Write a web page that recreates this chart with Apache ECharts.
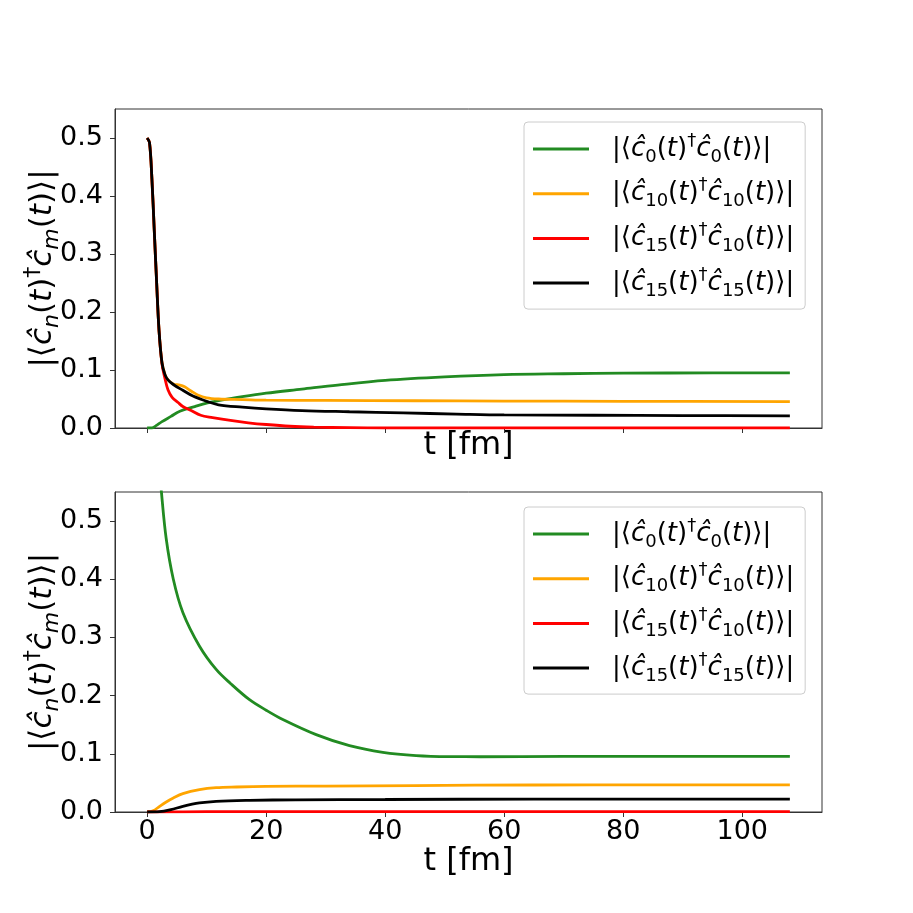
<!DOCTYPE html>
<html>
<head>
<meta charset="utf-8">
<script src="https://cdn.jsdelivr.net/npm/echarts@6/dist/echarts.min.js"></script>
<style>
  html, body { margin: 0; padding: 0; background: #fff; }
  #main { width: 913px; height: 913px; }
</style>
</head>
<body>
<div id="main"></div>
<script>
// 数据
var names = ['c0c0', 'c10c10', 'c15c10', 'c15c15'];
var colors = ['#228B22', '#FFA500', '#FF0000', '#000000'];
var xTicks = [0, 20, 40, 60, 80, 100];
var yTicks = [0, 0.1, 0.2, 0.3, 0.4, 0.5];

// 上图
var topGreenT = [0, 0.8, 1.5, 2.5, 4, 5.5, 8, 10, 12, 16, 20, 26, 32, 40, 50, 60, 70, 80, 95, 108];
var topGreenV = [0, 0, 0.004, 0.011, 0.020, 0.029, 0.037, 0.043, 0.047, 0.054, 0.060, 0.067, 0.074, 0.082, 0.088, 0.092, 0.0935, 0.0945, 0.095, 0.095];
var topOrangeT = [0, 0.4, 0.8, 1.2, 1.6, 2.0, 2.5, 3.0, 3.5, 4.4, 5.5, 6.3, 7.5, 8.5, 10, 12, 16, 20, 30, 45, 60, 80, 108];
var topOrangeV = [0.5, 0.492, 0.43, 0.34, 0.25, 0.168, 0.112, 0.092, 0.083, 0.076, 0.074, 0.071, 0.063, 0.057, 0.052, 0.050, 0.049, 0.048, 0.0475, 0.047, 0.0465, 0.046, 0.0455];
var topRedT = [0, 0.4, 0.8, 1.2, 1.6, 2.0, 2.5, 3.0, 3.5, 4.2, 5.2, 6, 7.4, 9, 11, 14, 17, 20, 24, 28, 34, 40, 60, 80, 108];
var topRedV = [0.5, 0.492, 0.43, 0.34, 0.25, 0.168, 0.11, 0.085, 0.066, 0.053, 0.044, 0.037, 0.030, 0.022, 0.018, 0.013, 0.009, 0.006, 0.003, 0.0015, 0.0005, 0, 0, 0, 0];
var topBlackT = [0, 0.4, 0.8, 1.2, 1.6, 2.0, 2.5, 3.0, 3.5, 4.4, 6, 7.7, 10, 12, 16, 20, 26, 34, 43, 52, 60, 75, 90, 108];
var topBlackV = [0.5, 0.492, 0.43, 0.34, 0.25, 0.168, 0.112, 0.092, 0.083, 0.075, 0.065, 0.055, 0.046, 0.040, 0.036, 0.033, 0.030, 0.028, 0.026, 0.024, 0.0225, 0.022, 0.0215, 0.021];

// 下图
var botGreenT = [0, 1, 2, 2.4, 3.2, 4.4, 6, 8.8, 11.6, 14, 17.2, 20, 22.8, 28.4, 34, 39.6, 45.2, 50.8, 56, 70, 90, 108];
var botGreenV = [1.0, 0.8, 0.6, 0.55, 0.47, 0.40, 0.343, 0.285, 0.245, 0.221, 0.193, 0.175, 0.159, 0.133, 0.114, 0.1026, 0.097, 0.0952, 0.095, 0.0955, 0.0955, 0.0955];
var botOrangeT = [0, 1, 2.1, 3, 4.4, 6, 8.8, 11.6, 15, 20, 30, 45, 65, 85, 108];
var botOrangeV = [0, 0.002, 0.0097, 0.016, 0.024, 0.0315, 0.0384, 0.0418, 0.043, 0.044, 0.0445, 0.0455, 0.0464, 0.0465, 0.0465];
var botRedT = [0, 10, 30, 60, 108];
var botRedV = [0, 0.0005, 0.0005, 0.0005, 0.0005];
var botBlackT = [0, 2.1, 4, 6, 8.8, 11.6, 17.2, 25, 40, 65, 85, 108];
var botBlackV = [0, 0.0005, 0.004, 0.0097, 0.0155, 0.0183, 0.020, 0.021, 0.0215, 0.0222, 0.0222, 0.022];

var FONT = 'DejaVu Sans';

function pairs(t, v) {
    return t.map(function (x, i) { return [x, v[i]]; });
}

// 图例文字：|<c_a(t)^† c_b(t)>|
function lbl(a, b) {
    return '{g|}{n||⟨}{i|ĉ}{s|' + a + '}{n|(}{i|t}{n|)}{p|†}{i|ĉ}{s|' + b + '}{n|(}{i|t}{n|)⟩|}';
}
var legendText = {
    c0c0: lbl('0', '0'),
    c10c10: lbl('10', '10'),
    c15c10: lbl('15', '10'),
    c15c15: lbl('15', '15')
};
var legendRich = {
    g: { width: 18, fontSize: 26, lineHeight: 34 },
    n: { fontFamily: FONT, fontSize: 26, lineHeight: 34, color: '#000' },
    i: { fontFamily: FONT, fontSize: 26, lineHeight: 34, fontStyle: 'italic', color: '#000' },
    s: { fontFamily: FONT, fontSize: 18, lineHeight: 21, verticalAlign: 'bottom', color: '#000' },
    p: { fontFamily: FONT, fontSize: 18, lineHeight: 12, verticalAlign: 'top', color: '#000' }
};

var yName = '{n||⟨}{i|ĉ}{si|n}{n|(}{i|t}{n|)}{p|†}{i|ĉ}{si|m}{n|(}{i|t}{n|)⟩|}';
var yRich = {
    n: { fontFamily: FONT, fontSize: 31, lineHeight: 41, color: '#000' },
    i: { fontFamily: FONT, fontSize: 31, lineHeight: 41, fontStyle: 'italic', color: '#000' },
    si: { fontFamily: FONT, fontSize: 22, lineHeight: 26, fontStyle: 'italic', verticalAlign: 'bottom', color: '#000' },
    p: { fontFamily: FONT, fontSize: 22, lineHeight: 14, verticalAlign: 'top', color: '#000' }
};

var axisLineStyle = { color: '#333', width: 1 };

function xAxisOf(idx, showLabel, gap) {
    return {
        type: 'value', gridIndex: idx, min: -5.4, max: 113.4,
        name: 't [fm]', nameLocation: 'middle', nameGap: gap, nameMoveOverlap: false,
        nameTextStyle: { fontFamily: FONT, fontSize: 32, color: '#000' },
        axisLine: { show: true, onZero: false, lineStyle: axisLineStyle },
        axisTick: { show: true, length: 5, lineStyle: axisLineStyle, customValues: xTicks },
        axisLabel: { show: showLabel, fontFamily: FONT, fontSize: 27, color: '#000', margin: 6, customValues: xTicks },
        splitLine: { show: false }
    };
}
function yAxisOf(idx) {
    return {
        type: 'value', gridIndex: idx, min: 0, max: 0.55,
        name: yName, nameLocation: 'middle', nameGap: 52, nameRotate: 90, nameMoveOverlap: false,
        nameTextStyle: { rich: yRich },
        axisLine: { show: true, onZero: false, lineStyle: axisLineStyle },
        axisTick: { show: true, length: 5, lineStyle: axisLineStyle, customValues: yTicks },
        axisLabel: {
            fontFamily: FONT, fontSize: 27, color: '#000', margin: 12, customValues: yTicks,
            formatter: function (v) { return v.toFixed(1); }
        },
        splitLine: { show: false }
    };
}
function legendOf(top) {
    return {
        data: names, left: 524, top: top, orient: 'vertical',
        icon: 'rect', itemWidth: 56, itemHeight: 3, itemGap: 10.7,
        padding: [10, 11, 9, 9],
        borderColor: '#cccccc', borderWidth: 1, borderRadius: 4,
        backgroundColor: 'rgba(255,255,255,0.8)',
        formatter: function (n) { return legendText[n]; },
        textStyle: { rich: legendRich, fontSize: 26, lineHeight: 34 }
    };
}
function line(name, idx, t, v, ci) {
    return {
        name: name, type: 'line', xAxisIndex: idx, yAxisIndex: idx,
        data: pairs(t, v), showSymbol: false, symbol: 'none',
        smooth: 0.35, clip: true,
        lineStyle: { color: colors[ci], width: 2.8 },
        itemStyle: { color: colors[ci] }
    };
}

var myChart = echarts.init(document.getElementById('main'));
var option = {
    animation: false,
    backgroundColor: '#fff',
    grid: [
        { left: 115, right: 91, top: 109, height: 319, outerBoundsMode: 'none', show: true, borderColor: '#333', borderWidth: 1 },
        { left: 115, right: 91, top: 492, height: 320, outerBoundsMode: 'none', show: true, borderColor: '#333', borderWidth: 1 }
    ],
    xAxis: [xAxisOf(0, false, 2), xAxisOf(1, true, 34)],
    yAxis: [yAxisOf(0), yAxisOf(1)],
    legend: [legendOf(122), legendOf(507)],
    series: [
        line('c0c0', 0, topGreenT, topGreenV, 0),
        line('c10c10', 0, topOrangeT, topOrangeV, 1),
        line('c15c10', 0, topRedT, topRedV, 2),
        line('c15c15', 0, topBlackT, topBlackV, 3),
        line('c0c0', 1, botGreenT, botGreenV, 0),
        line('c10c10', 1, botOrangeT, botOrangeV, 1),
        line('c15c10', 1, botRedT, botRedV, 2),
        line('c15c15', 1, botBlackT, botBlackV, 3)
    ]
};
myChart.setOption(option);
</script>
</body>
</html>
